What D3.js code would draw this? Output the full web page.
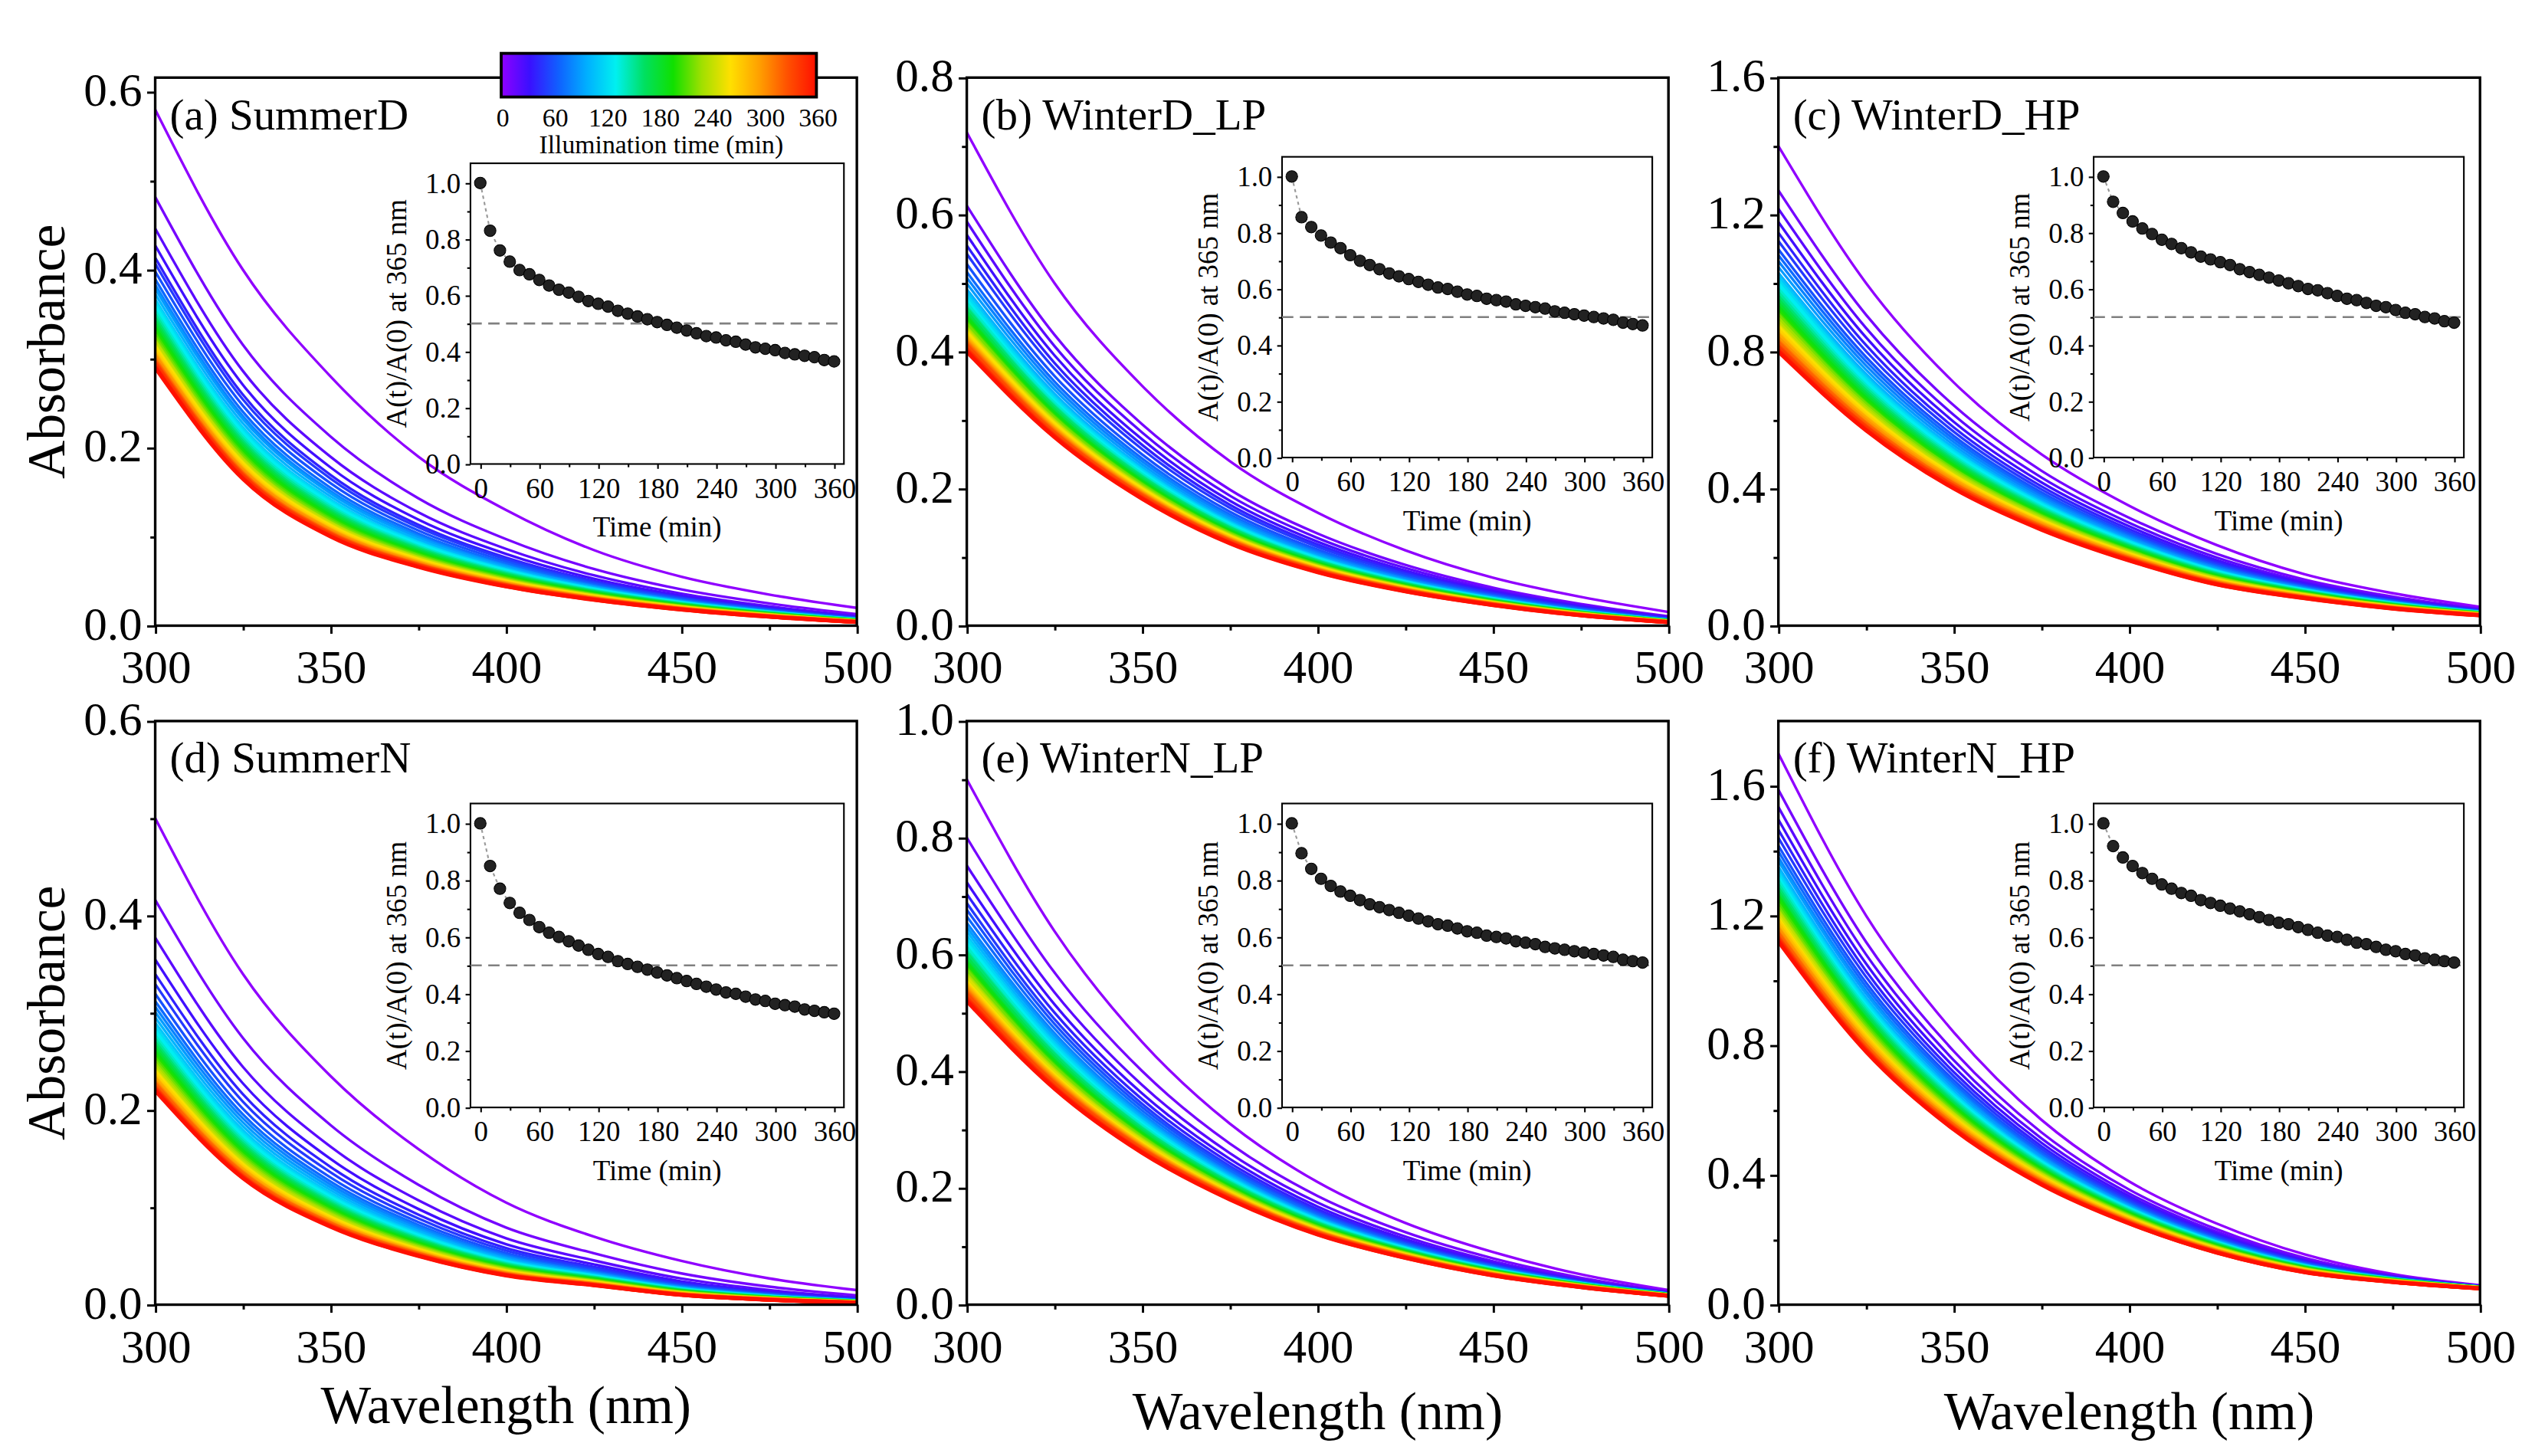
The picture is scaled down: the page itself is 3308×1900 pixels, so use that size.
<!DOCTYPE html>
<html><head><meta charset="utf-8">
<script src="https://cdn.jsdelivr.net/npm/d3@7"></script>
<style>body{margin:0;background:#fff}text{font-family:"Liberation Serif","Times New Roman",serif;fill:#000}</style>
</head><body><svg id="c" width="3308" height="1900" viewBox="0 0 1568 900.6"></svg>
<script>
const wavelengths=[300,325,350,375,400,425,450,475,500];
const times=d3.range(0,361,10);
const panelLabels=["(a) SummerD","(b) WinterD_LP","(c) WinterD_HP","(d) SummerN","(e) WinterN_LP","(f) WinterN_HP"];
const yMax=[0.616,0.8,1.6,0.6,1.0,1.8];
const yTickStep=[0.2,0.2,0.4,0.2,0.2,0.4];
const specStart=[
[0.58,0.40,0.28,0.19,0.13,0.085,0.055,0.035,0.02],
[0.72,0.50,0.35,0.24,0.165,0.11,0.07,0.042,0.02],
[1.40,1.00,0.71,0.50,0.35,0.235,0.15,0.095,0.055],
[0.50,0.34,0.235,0.16,0.105,0.07,0.045,0.027,0.015],
[0.90,0.64,0.45,0.31,0.21,0.14,0.09,0.052,0.025],
[1.70,1.20,0.84,0.57,0.38,0.25,0.155,0.095,0.06]];
const specEnd=[
[0.29,0.165,0.10,0.066,0.044,0.029,0.018,0.01,0.004],
[0.40,0.275,0.185,0.12,0.078,0.05,0.03,0.015,0.005],
[0.80,0.57,0.40,0.28,0.19,0.12,0.08,0.05,0.03],
[0.22,0.13,0.08,0.05,0.03,0.02,0.01,0.005,0.002],
[0.52,0.37,0.26,0.18,0.12,0.08,0.05,0.03,0.015],
[1.12,0.78,0.54,0.37,0.25,0.16,0.10,0.07,0.05]];
const ratioA=[1.0,0.83,0.76,0.72,0.69,0.675,0.655,0.635,0.62,0.61,0.595,0.58,0.57,0.56,0.545,0.535,0.525,0.515,0.505,0.495,0.485,0.475,0.465,0.455,0.45,0.44,0.435,0.425,0.415,0.41,0.405,0.395,0.39,0.385,0.38,0.37,0.365];
const ratioB=[1.0,0.855,0.82,0.79,0.765,0.745,0.72,0.70,0.685,0.67,0.655,0.645,0.635,0.625,0.615,0.605,0.60,0.59,0.58,0.575,0.565,0.56,0.555,0.545,0.54,0.535,0.53,0.52,0.515,0.51,0.505,0.50,0.495,0.49,0.48,0.475,0.47];
const ratioC=[1.0,0.91,0.87,0.84,0.815,0.795,0.775,0.76,0.745,0.73,0.715,0.705,0.695,0.685,0.67,0.66,0.65,0.64,0.63,0.62,0.61,0.60,0.595,0.585,0.575,0.565,0.56,0.55,0.54,0.535,0.525,0.515,0.51,0.50,0.495,0.485,0.48];
const ratioD=[1.0,0.85,0.77,0.72,0.685,0.66,0.635,0.615,0.60,0.585,0.57,0.555,0.54,0.53,0.515,0.505,0.495,0.485,0.475,0.465,0.455,0.445,0.435,0.425,0.415,0.405,0.40,0.39,0.38,0.375,0.365,0.36,0.355,0.345,0.34,0.335,0.33];
const ratioE=[1.0,0.895,0.84,0.805,0.78,0.76,0.745,0.73,0.715,0.705,0.695,0.685,0.675,0.665,0.655,0.645,0.64,0.63,0.62,0.615,0.605,0.60,0.595,0.585,0.58,0.575,0.565,0.56,0.555,0.55,0.545,0.54,0.535,0.53,0.52,0.515,0.51];
const ratioF=[1.0,0.92,0.88,0.85,0.825,0.805,0.785,0.77,0.755,0.745,0.73,0.72,0.71,0.70,0.69,0.68,0.67,0.66,0.65,0.645,0.635,0.625,0.615,0.605,0.60,0.59,0.58,0.575,0.565,0.555,0.55,0.54,0.535,0.525,0.52,0.515,0.51];
const ratios=[ratioA,ratioB,ratioC,ratioD,ratioE,ratioF];
const cbTicks=[0,60,120,180,240,300,360];
const colorStops=["#9000ff","#3a10ff","#1060ff","#00b0ff","#00f0f0","#00e060","#10e000","#a0e000","#ffe000","#ffa000","#ff5000","#ff1000"];

const svg=d3.select("#c");
const color=d3.scaleLinear().domain(colorStops.map((c,i)=>360*i/(colorStops.length-1))).range(colorStops).interpolate(d3.interpolateRgb);
const colX=[[96,530],[598,1032],[1100,1534]];
const rowY=[[48,387],[446,807]];
const insetX=[[291,522],[793,1022],[1295,1524]];
const insetY=[[101,287],[97,283],[97,283],[497,685],[497,685],[497,685]];

panelLabels.forEach((lab,p)=>{
  const c=p%3,r=Math.floor(p/3);
  const x=d3.scaleLinear().domain([300,500]).range(colX[c]);
  const y=d3.scaleLinear().domain([0,yMax[p]]).range([rowY[r][1],rowY[r][0]]);
  const g=svg.append("g");
  const clip="clip"+p;
  svg.append("clipPath").attr("id",clip).append("rect").attr("x",colX[c][0]).attr("y",rowY[r][0]).attr("width",colX[c][1]-colX[c][0]).attr("height",rowY[r][1]-rowY[r][0]);
  const rat=ratios[p], rEnd=rat[rat.length-1];
  const line=d3.line().x(d=>x(d[0])).y(d=>y(d[1])).curve(d3.curveMonotoneX);
  const lg=g.append("g").attr("clip-path",`url(#${clip})`);
  times.forEach((t,i)=>{
    const f=(1-rat[i])/(1-rEnd);
    const pts=wavelengths.map((w,k)=>[w,Math.exp((1-f)*Math.log(specStart[p][k])+f*Math.log(specEnd[p][k]))]);
    lg.append("path").attr("d",line(pts)).attr("fill","none").attr("stroke",color(t)).attr("stroke-width",i<12?1.6:2.4);
  });
  g.append("rect").attr("x",colX[c][0]).attr("y",rowY[r][0]).attr("width",colX[c][1]-colX[c][0]).attr("height",rowY[r][1]-rowY[r][0]).attr("fill","none").attr("stroke","#000").attr("stroke-width",1.6);
  const ax=g.append("g").attr("transform",`translate(0,${rowY[r][1]})`).call(d3.axisBottom(x).tickValues([300,350,400,450,500]).tickSize(5).tickFormat(d3.format("d")));
  g.append("g").attr("transform",`translate(0,${rowY[r][1]})`).call(d3.axisBottom(x).tickValues(d3.range(325,500,50)).tickSize(3).tickFormat(""));
  const yt=d3.range(0,yMax[p]+1e-9,yTickStep[p]);
  const ay=g.append("g").attr("transform",`translate(${colX[c][0]},0)`).call(d3.axisLeft(y).tickValues(yt).tickSize(5).tickFormat(d3.format(".1f")));
  g.append("g").attr("transform",`translate(${colX[c][0]},0)`).call(d3.axisLeft(y).tickValues(d3.range(yTickStep[p]/2,yMax[p],yTickStep[p])).tickSize(3).tickFormat(""));
  g.selectAll(".domain").remove();
  g.selectAll(".tick line").attr("stroke","#000").attr("stroke-width",1.4);
  ax.selectAll("text").attr("font-size",29).attr("dy","0.95em");
  ay.selectAll("text").attr("font-size",29).attr("dx","0").attr("dy","0.28em");
  g.append("text").attr("x",colX[c][0]+9).attr("y",rowY[r][0]+32).attr("font-size",27).text(lab);
  if(c===0) g.append("text").attr("transform",`translate(40,${(rowY[r][0]+rowY[r][1])/2}) rotate(-90)`).attr("text-anchor","middle").attr("font-size",33).text("Absorbance");
  if(r===1) g.append("text").attr("x",(colX[c][0]+colX[c][1])/2).attr("y",c===0?880:884).attr("text-anchor","middle").attr("font-size",33).text("Wavelength (nm)");

  const ix=d3.scaleLinear().domain([-10,370]).range(insetX[c]);
  const iy=d3.scaleLinear().domain([0,1.07]).range([insetY[p][1],insetY[p][0]]);
  const ig=g.append("g");
  ig.append("rect").attr("x",insetX[c][0]).attr("y",insetY[p][0]).attr("width",insetX[c][1]-insetX[c][0]).attr("height",insetY[p][1]-insetY[p][0]).attr("fill","#fff").attr("stroke","#000").attr("stroke-width",1);
  ig.append("line").attr("x1",insetX[c][0]).attr("x2",insetX[c][1]).attr("y1",iy(0.5)).attr("y2",iy(0.5)).attr("stroke","#808080").attr("stroke-width",1.2).attr("stroke-dasharray","7,4");
  ig.append("path").attr("d",d3.line().x((d,i)=>ix(times[i])).y(d=>iy(d))(rat)).attr("fill","none").attr("stroke","#999").attr("stroke-width",1).attr("stroke-dasharray","2,2");
  ig.selectAll("circle").data(rat).join("circle").attr("cx",(d,i)=>ix(times[i])).attr("cy",d=>iy(d)).attr("r",3.6).attr("fill","#222").attr("stroke","#000").attr("stroke-width",0.5);
  const iax=ig.append("g").attr("transform",`translate(0,${insetY[p][1]})`).call(d3.axisBottom(ix).tickValues(cbTicks).tickSize(3));
  ig.append("g").attr("transform",`translate(0,${insetY[p][1]})`).call(d3.axisBottom(ix).tickValues(d3.range(30,361,60)).tickSize(2).tickFormat(""));
  const iay=ig.append("g").attr("transform",`translate(${insetX[c][0]},0)`).call(d3.axisLeft(iy).tickValues([0,0.2,0.4,0.6,0.8,1.0]).tickSize(3).tickFormat(d3.format(".1f")));
  ig.append("g").attr("transform",`translate(${insetX[c][0]},0)`).call(d3.axisLeft(iy).tickValues([0.1,0.3,0.5,0.7,0.9]).tickSize(2).tickFormat(""));
  ig.selectAll(".domain").remove();
  ig.selectAll(".tick line").attr("stroke","#000");
  iax.selectAll("text").attr("font-size",17.5).attr("dy","0.85em");
  iay.selectAll("text").attr("font-size",17.5);
  ig.append("text").attr("x",(insetX[c][0]+insetX[c][1])/2).attr("y",insetY[p][1]+45).attr("text-anchor","middle").attr("font-size",17.5).text("Time (min)");
  ig.append("text").attr("transform",`translate(${insetX[c][0]-40},${(insetY[p][0]+insetY[p][1])/2}) rotate(-90)`).attr("text-anchor","middle").attr("font-size",17.5).text("A(t)/A(0) at 365 nm");
});

const cbx=d3.scaleLinear().domain([0,360]).range([311,506]);
const defs=svg.append("defs");
const gr=defs.append("linearGradient").attr("id","cbg");
colorStops.forEach((s,i)=>gr.append("stop").attr("offset",(100*i/(colorStops.length-1))+"%").attr("stop-color",s));
svg.append("rect").attr("x",310).attr("y",33).attr("width",195).attr("height",27).attr("fill","url(#cbg)").attr("stroke","#000").attr("stroke-width",1.8);
cbTicks.forEach(t=>svg.append("text").attr("x",cbx(t)).attr("y",78).attr("text-anchor","middle").attr("font-size",16).text(t));
svg.append("text").attr("x",409).attr("y",95).attr("text-anchor","middle").attr("font-size",16).text("Illumination time (min)");
</script></body></html>
